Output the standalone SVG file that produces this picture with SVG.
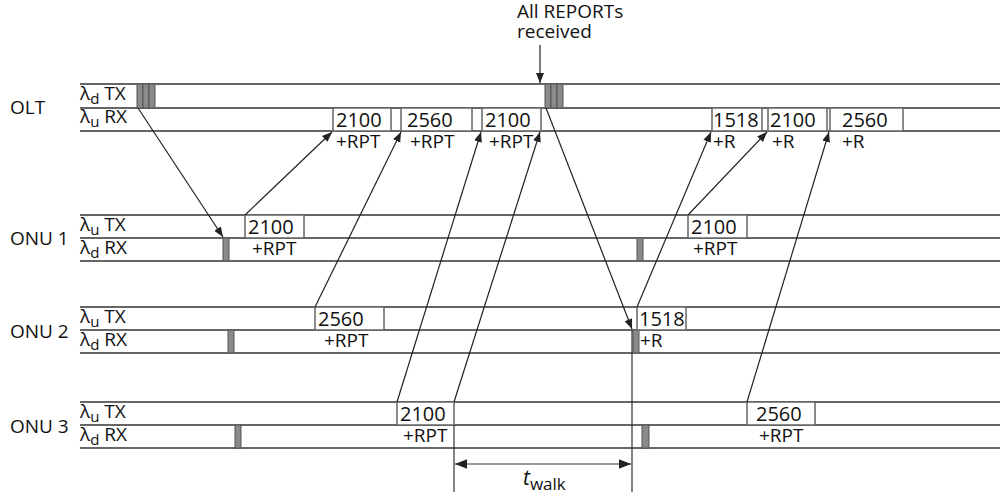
<svg xmlns="http://www.w3.org/2000/svg" width="1000" height="497" viewBox="0 0 1000 497">
<style>
text{font-family:"Open Sans","DejaVu Sans",sans-serif;fill:#111}
.name{font-size:19px}
.row{font-size:19px}
.num{font-size:20px}
.lbl{font-size:19px}
.rl{stroke:#666;stroke-width:2;fill:none}
.box{fill:#fff;stroke:#666;stroke-width:1.5}
.bar{fill:#8a8a8a;stroke:#555;stroke-width:1}
.con{stroke:#222;stroke-width:1.2;fill:none;marker-end:url(#ah)}
.dim{stroke:#333;stroke-width:1.2;fill:none}
</style>
<defs>
<marker id="ah" viewBox="0 0 10 10" refX="10" refY="5" markerWidth="10" markerHeight="10" markerUnits="userSpaceOnUse" orient="auto">
<path d="M0,1 L10,5 L0,9 Z" fill="#222"/>
</marker>
<marker id="ah2" viewBox="0 0 10 10" refX="10" refY="5" markerWidth="12" markerHeight="12" markerUnits="userSpaceOnUse" orient="auto-start-reverse">
<path d="M0,1 L10,5 L0,9 Z" fill="#222"/>
</marker>
<g id="burst">
<rect x="0" y="0" width="6" height="24" class="bar"/>
<rect x="6" y="0" width="6" height="24" class="bar"/>
<rect x="12" y="0" width="6" height="24" class="bar"/>
</g>
</defs>

<g id="olt">
<text class="name" x="10" y="114">OLT</text>
<text class="row" x="80" y="100">λ<tspan dy="4" font-size="15">d</tspan><tspan dy="-4"> TX</tspan></text>
<text class="row" x="80" y="123">λ<tspan dy="4" font-size="15">u</tspan><tspan dy="-4"> RX</tspan></text>
<line class="rl" x1="80" y1="84" x2="1000" y2="84"/>
<line class="rl" x1="80" y1="108" x2="1000" y2="108"/>
<line class="rl" x1="80" y1="131" x2="1000" y2="131"/>
<use href="#burst" x="137" y="84"/>
<use href="#burst" x="545" y="84"/>
<rect class="box" x="333" y="108" width="58" height="23"/>
<rect class="box" x="401" y="108" width="71" height="23"/>
<rect class="box" x="482" y="108" width="59" height="23"/>
<rect class="box" x="712" y="108" width="50" height="23"/>
<rect class="box" x="768" y="108" width="59" height="23"/>
<rect class="box" x="830" y="108" width="73" height="23"/>
<text class="num" x="336" y="127">2100</text>
<text class="num" x="407" y="127">2560</text>
<text class="num" x="485" y="127">2100</text>
<text class="num" x="713" y="127">1518</text>
<text class="num" x="770" y="127">2100</text>
<text class="num" x="842" y="127">2560</text>
<text class="lbl" x="336" y="148">+RPT</text>
<text class="lbl" x="410" y="148">+RPT</text>
<text class="lbl" x="489" y="148">+RPT</text>
<text class="lbl" x="713" y="148">+R</text>
<text class="lbl" x="772" y="148">+R</text>
<text class="lbl" x="842" y="148">+R</text>
</g>

<g id="onu1">
<text class="name" x="10" y="245">ONU 1</text>
<text class="row" x="80" y="231">λ<tspan dy="4" font-size="15">u</tspan><tspan dy="-4"> TX</tspan></text>
<text class="row" x="80" y="254">λ<tspan dy="4" font-size="15">d</tspan><tspan dy="-4"> RX</tspan></text>
<line class="rl" x1="80" y1="215" x2="1000" y2="215"/>
<line class="rl" x1="80" y1="238" x2="1000" y2="238"/>
<line class="rl" x1="80" y1="261" x2="1000" y2="261"/>
<rect class="bar" x="223" y="238" width="6" height="23"/>
<rect class="bar" x="637" y="238" width="6" height="23"/>
<rect class="box" x="245" y="215" width="59" height="23"/>
<rect class="box" x="688" y="215" width="59" height="23"/>
<text class="num" x="248" y="234">2100</text>
<text class="num" x="691" y="234">2100</text>
<text class="lbl" x="252" y="255">+RPT</text>
<text class="lbl" x="693" y="255">+RPT</text>
</g>

<g id="onu2">
<text class="name" x="10" y="338">ONU 2</text>
<text class="row" x="80" y="323">λ<tspan dy="4" font-size="15">u</tspan><tspan dy="-4"> TX</tspan></text>
<text class="row" x="80" y="346">λ<tspan dy="4" font-size="15">d</tspan><tspan dy="-4"> RX</tspan></text>
<line class="rl" x1="80" y1="307" x2="1000" y2="307"/>
<line class="rl" x1="80" y1="330" x2="1000" y2="330"/>
<line class="rl" x1="80" y1="353" x2="1000" y2="353"/>
<rect class="bar" x="228" y="330" width="6" height="23"/>
<rect class="bar" x="633" y="330" width="6" height="23"/>
<rect class="box" x="315" y="307" width="69" height="23"/>
<rect class="box" x="637" y="307" width="49" height="23"/>
<text class="num" x="318" y="326">2560</text>
<text class="num" x="639" y="326">1518</text>
<text class="lbl" x="324" y="347">+RPT</text>
<text class="lbl" x="640" y="347">+R</text>
</g>

<g id="onu3">
<text class="name" x="10" y="433">ONU 3</text>
<text class="row" x="80" y="418">λ<tspan dy="4" font-size="15">u</tspan><tspan dy="-4"> TX</tspan></text>
<text class="row" x="80" y="441">λ<tspan dy="4" font-size="15">d</tspan><tspan dy="-4"> RX</tspan></text>
<line class="rl" x1="80" y1="402" x2="1000" y2="402"/>
<line class="rl" x1="80" y1="425" x2="1000" y2="425"/>
<line class="rl" x1="80" y1="448" x2="1000" y2="448"/>
<rect class="bar" x="235" y="425" width="6" height="23"/>
<rect class="bar" x="642" y="425" width="7" height="23"/>
<rect class="box" x="397" y="402" width="57" height="23"/>
<rect class="box" x="747" y="402" width="68" height="23"/>
<text class="num" x="400" y="421">2100</text>
<text class="num" x="756" y="421">2560</text>
<text class="lbl" x="403" y="442">+RPT</text>
<text class="lbl" x="759" y="442">+RPT</text>
</g>

<g id="connectors">
<line class="con" x1="138" y1="108" x2="223" y2="237"/>
<line class="con" x1="245" y1="215" x2="332" y2="132"/>
<line class="con" x1="315" y1="307" x2="401" y2="132"/>
<line class="con" x1="397" y1="402" x2="481" y2="132"/>
<line class="con" x1="454" y1="402" x2="540" y2="132"/>
<line class="con" x1="546" y1="108" x2="632" y2="329"/>
<line class="con" x1="637" y1="307" x2="711" y2="132"/>
<line class="con" x1="688" y1="215" x2="767" y2="132"/>
<line class="con" x1="747" y1="402" x2="829" y2="132"/>
</g>

<g id="annotations">
<text class="lbl" x="517" y="18">All REPORTs</text>
<text class="lbl" x="517" y="38">received</text>
<line class="con" x1="540" y1="45" x2="540" y2="83"/>
<line class="dim" x1="454" y1="425" x2="454" y2="492"/>
<line class="dim" x1="632" y1="330" x2="632" y2="492"/>
<line class="dim" x1="455" y1="464" x2="631" y2="464" marker-start="url(#ah2)" marker-end="url(#ah2)"/>
<text x="523" y="485" font-size="21" font-style="italic">t<tspan dy="5" font-size="17" font-style="normal">walk</tspan></text>
</g>
</svg>
